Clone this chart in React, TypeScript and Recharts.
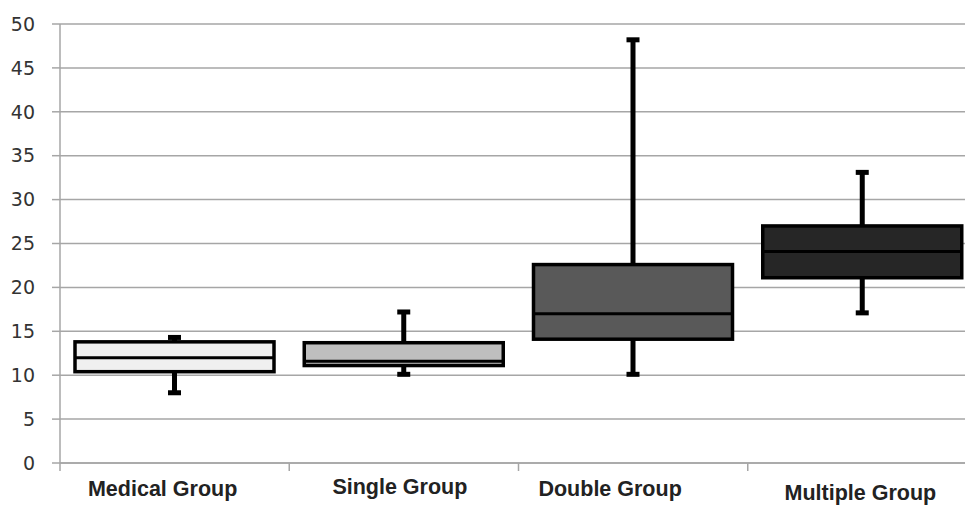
import React from 'react';
import { ComposedChart, Bar, XAxis, YAxis, CartesianGrid } from 'recharts';

// box plot stats
const categories = ['Medical Group', 'Single Group', 'Double Group', 'Multiple Group'];
const minValues = [8.0, 10.1, 10.1, 17.1];
const q1Values = [10.4, 11.1, 14.1, 21.1];
const medianValues = [12.0, 11.6, 17.0, 24.1];
const q3Values = [13.8, 13.7, 22.6, 27.0];
const maxValues = [14.3, 17.2, 48.2, 33.1];
const boxFills = ['#f0f0f0', '#bfbfbf', '#595959', '#262626'];
const yTicks = [0, 5, 10, 15, 20, 25, 30, 35, 40, 45, 50];

const data = categories.map((name, i) => ({
    name,
    range: [minValues[i], maxValues[i]],
    q1: q1Values[i],
    median: medianValues[i],
    q3: q3Values[i],
    fill: boxFills[i],
}));

const CHART_W = 980;
const PLOT_LEFT = 60;
const PLOT_RIGHT = 3;
const BAND = (CHART_W - PLOT_LEFT - PLOT_RIGHT) / categories.length;
const GRID = '#a6a6a6';

const BoxShape = (props: any) => {
    const { x, y, width, height, payload } = props;
    const [lo, hi] = payload.range;
    const top = Math.min(y, y + height);
    const h = Math.abs(height);
    const px = (v: number) => top + ((hi - v) / (hi - lo)) * h;
    const cx = x + width / 2;
    const capW = 13;
    return (
        <g>
            <line x1={cx} x2={cx} y1={px(hi)} y2={px(lo)} stroke="#000" strokeWidth={5} />
            <rect x={cx - capW / 2} y={px(hi) - 2.5} width={capW} height={5} fill="#000" />
            <rect x={cx - capW / 2} y={px(lo) - 2.5} width={capW} height={5} fill="#000" />
            <rect
                x={x}
                y={px(payload.q3)}
                width={width}
                height={px(payload.q1) - px(payload.q3)}
                fill={payload.fill}
                stroke="#000"
                strokeWidth={3.5}
            />
            <line x1={x} x2={x + width} y1={px(payload.median)} y2={px(payload.median)} stroke="#000" strokeWidth={3} />
        </g>
    );
};

// labels in the source sit a bit off-centre
const labelShift = [
    { dx: -12, dy: 33 },
    { dx: -4, dy: 31 },
    { dx: -23, dy: 33 },
    { dx: -2, dy: 37 },
];

const CategoryTick = (props: any) => {
    const { x, y, payload, index } = props;
    const s = labelShift[index] || { dx: 0, dy: 33 };
    return (
        <g>
            {index === 0 && (
                <line x1={x - BAND / 2} x2={x - BAND / 2} y1={y} y2={y + 8} stroke={GRID} strokeWidth={1.5} />
            )}
            <line x1={x + BAND / 2} x2={x + BAND / 2} y1={y} y2={y + 8} stroke={GRID} strokeWidth={1.5} />
            <text
                x={x + s.dx}
                y={y + s.dy}
                textAnchor="middle"
                fontFamily="'Liberation Sans', Arial, sans-serif"
                fontWeight="bold"
                fontSize={21.5}
                fill="#222"
            >
                {payload.value}
            </text>
        </g>
    );
};

export default function App() {
    return (
        <div style={{ position: 'absolute', left: 0, top: 0, width: 965, height: 505, overflow: 'hidden', background: '#fff' }}>
            <ComposedChart
                width={CHART_W}
                height={505}
                data={data}
                margin={{ top: 24, right: PLOT_RIGHT, left: 0, bottom: 0 }}
            >
                <CartesianGrid vertical={false} stroke={GRID} strokeWidth={1.5} />
                <XAxis
                    dataKey="name"
                    height={42}
                    interval={0}
                    tickSize={0}
                    tickMargin={0}
                    tickLine={false}
                    axisLine={{ stroke: GRID, strokeWidth: 1.5 }}
                    tick={<CategoryTick />}
                />
                <YAxis
                    width={PLOT_LEFT}
                    domain={[0, 50]}
                    ticks={yTicks}
                    interval={0}
                    tickSize={8}
                    tickMargin={17}
                    axisLine={{ stroke: GRID, strokeWidth: 1.5 }}
                    tickLine={{ stroke: GRID, strokeWidth: 1.5 }}
                    tick={{ fill: '#333', fontSize: 19, fontFamily: "'DejaVu Sans', sans-serif" }}
                />
                <Bar dataKey="range" barSize={199} shape={<BoxShape />} isAnimationActive={false} />
            </ComposedChart>
        </div>
    );
}
